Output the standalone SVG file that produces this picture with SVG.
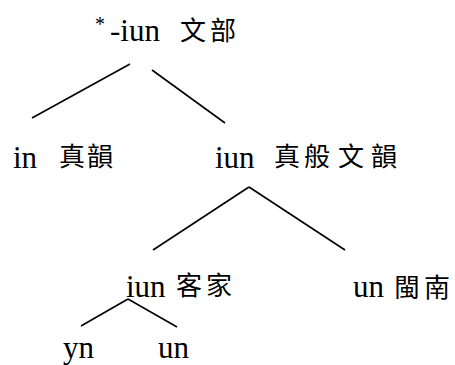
<svg xmlns="http://www.w3.org/2000/svg" width="455" height="365" viewBox="0 0 455 365">
<style>
.lat{font-family:"Liberation Serif","Times New Roman",serif;font-size:31px;fill:#000}
.sup{font-family:"Liberation Serif","Times New Roman",serif;font-size:20px;fill:#000}
.cjk{font-family:"Noto Sans CJK TC","Noto Sans CJK SC",sans-serif;font-size:26px;fill:#000}
.edge{stroke:#000;stroke-width:1.6;fill:none;stroke-linecap:butt}
</style>
<rect width="455" height="365" fill="#fff"/>
<g id="connectors">
<line class="edge" x1="130" y1="64" x2="32" y2="118"/>
<line class="edge" x1="152" y1="70" x2="225" y2="123"/>
<line class="edge" x1="249" y1="187" x2="153" y2="250"/>
<line class="edge" x1="249" y1="187" x2="345" y2="250"/>
<line class="edge" x1="128" y1="299" x2="81" y2="326"/>
<line class="edge" x1="128" y1="299" x2="177" y2="327"/>
</g>
<g id="root">
<text class="sup" x="95" y="31">*</text>
<text class="lat" x="110" y="41">-iun</text>
<text class="cjk" x="180 210" y="40">文部</text>
</g>
<g id="in">
<text class="lat" x="13" y="168">in</text>
<text class="cjk" x="59 87" y="166">真韻</text>
</g>
<g id="iun">
<text class="lat" x="215" y="168">iun</text>
<text class="cjk" x="274 304 338 371" y="166">真般文韻</text>
</g>
<g id="iun-hakka">
<text class="lat" x="126" y="297">iun</text>
<text class="cjk" x="176 206" y="295">客家</text>
</g>
<g id="un-minnan">
<text class="lat" x="353" y="297">un</text>
<text class="cjk" x="394 424" y="297">閩南</text>
</g>
<g id="yn">
<text class="lat" x="63" y="358">yn</text>
</g>
<g id="un">
<text class="lat" x="158" y="358">un</text>
</g>
</svg>
